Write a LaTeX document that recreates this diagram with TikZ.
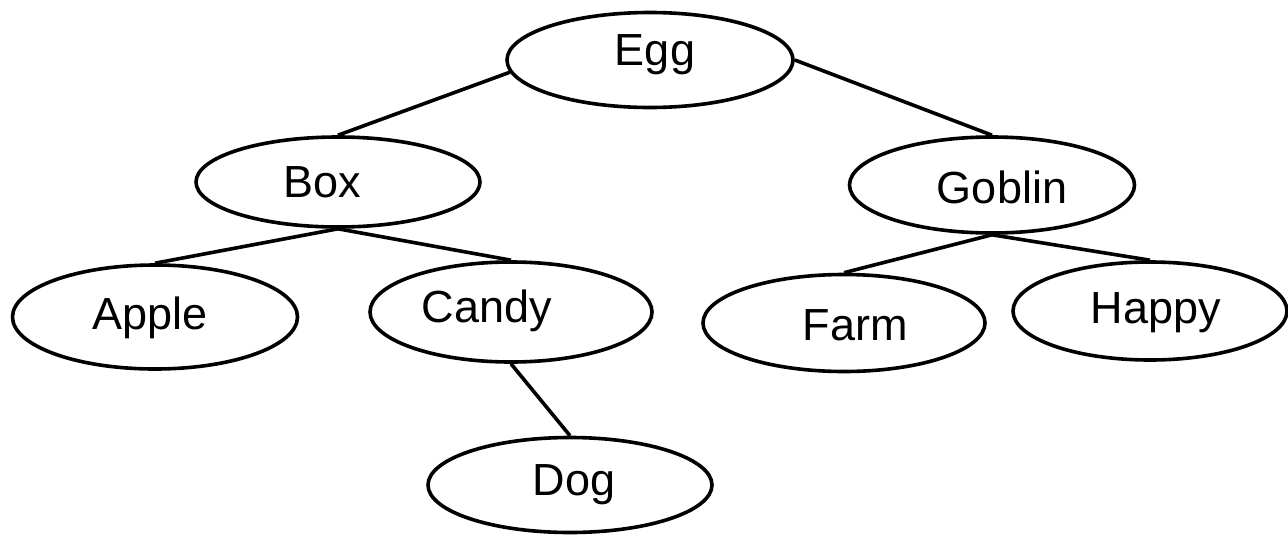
\documentclass[tikz,border=0pt]{standalone}
\usepackage{fontspec}
\setmainfont{Liberation Sans}
\usetikzlibrary{shapes.geometric}
\begin{document}
\begin{tikzpicture}[x=1pt,y=-1pt,
  treenode/.style={ellipse,draw=black,line width=3.6pt,inner sep=0pt,
    minimum width=#1},
  treenode/.default=284pt,
  word/.style={inner sep=0pt,font=\fontsize{45}{50}\selectfont},
  branch/.style={draw=black,line width=3.6pt}]
\useasboundingbox (0,0) rectangle (1288,536);
% ellipses
\node[treenode=286pt,minimum height=95pt] (egg) at (650,60) {};
\node[treenode=284pt,minimum height=90pt] (box) at (338,182) {};
\node[treenode=285pt,minimum height=96pt] (goblin) at (992,185) {};
\node[treenode=285pt,minimum height=104pt] (apple) at (155,317) {};
\node[treenode=282pt,minimum height=100pt] (candy) at (511,312) {};
\node[treenode=282pt,minimum height=97pt] (farm) at (844,323) {};
\node[treenode=274pt,minimum height=98pt] (happy) at (1150,311) {};
\node[treenode=284pt,minimum height=95pt] (dog) at (570,485) {};
% labels
\node[word] (eggtext) at (655,55) {Egg};
\node[word] (boxtext) at (322,182) {Box};
\node[word] (goblintext) at (1002,187) {Goblin};
\node[word] (appletext) at (150,318) {Apple};
\node[word] (candytext) at (487,311) {Candy};
\node[word] (farmtext) at (855,325) {Farm};
\node[word] (happytext) at (1156,313) {Happy};
\node[word] (dogtext) at (574,485) {Dog};
% branches
\draw[branch] (egg.185) -- (box.north);
\draw[branch] (egg.east) -- (goblin.north);
\draw[branch] (box.south) -- (apple.north);
\draw[branch] (box.south) -- (candy.north);
\draw[branch] (goblin.south) -- (farm.north);
\draw[branch] (goblin.south) -- (happy.north);
\draw[branch] (candy.south) -- (dog.north);
\end{tikzpicture}
\end{document}
